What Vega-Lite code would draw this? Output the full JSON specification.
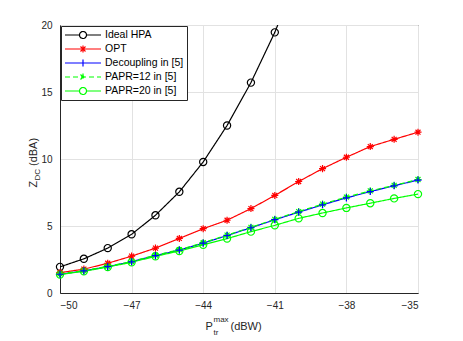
{
  "$schema": "https://vega.github.io/schema/vega-lite/v6.json",
  "width": 358,
  "height": 268,
  "autosize": {"type": "none"},
  "padding": {"left": 60, "top": 25, "right": 45, "bottom": 48},
  "background": "white",
  "config": {
    "font": "Liberation Sans",
    "view": {"stroke": "#262626", "strokeWidth": 1},
    "axis": {
      "domainColor": "#262626",
      "labelColor": "#262626",
      "titleColor": "#262626",
      "gridColor": "#e2e2e2",
      "labelFont": "Liberation Sans",
      "titleFont": "Liberation Sans",
      "labelFontSize": 10,
      "titleFontSize": 11,
      "titleFontWeight": "normal",
      "ticks": false
    },
    "legend": {
      "orient": "top-left",
      "offset": 1,
      "padding": 3,
      "strokeColor": "#262626",
      "fillColor": "white",
      "labelFont": "Liberation Sans",
      "labelFontSize": 10.5,
      "labelColor": "#000000",
      "labelOffset": 29,
      "symbolSize": 100,
      "symbolStrokeWidth": 1.2,
      "symbolOpacity": 1,
      "rowPadding": 2
    }
  },
  "datasets": {
    "d": [
      {"series": "Ideal HPA", "p": -50, "z": 1.95},
      {"series": "Ideal HPA", "p": -49, "z": 2.55},
      {"series": "Ideal HPA", "p": -48, "z": 3.35},
      {"series": "Ideal HPA", "p": -47, "z": 4.38},
      {"series": "Ideal HPA", "p": -46, "z": 5.8},
      {"series": "Ideal HPA", "p": -45, "z": 7.55},
      {"series": "Ideal HPA", "p": -44, "z": 9.78},
      {"series": "Ideal HPA", "p": -43, "z": 12.5},
      {"series": "Ideal HPA", "p": -42, "z": 15.7},
      {"series": "Ideal HPA", "p": -41, "z": 19.45},
      {"series": "Ideal HPA", "p": -40, "z": 23.9},
      {"series": "OPT", "p": -50, "z": 1.52},
      {"series": "OPT", "p": -49, "z": 1.78},
      {"series": "OPT", "p": -48, "z": 2.22},
      {"series": "OPT", "p": -47, "z": 2.75},
      {"series": "OPT", "p": -46, "z": 3.35},
      {"series": "OPT", "p": -45, "z": 4.07},
      {"series": "OPT", "p": -44, "z": 4.8},
      {"series": "OPT", "p": -43, "z": 5.43},
      {"series": "OPT", "p": -42, "z": 6.3},
      {"series": "OPT", "p": -41, "z": 7.28},
      {"series": "OPT", "p": -40, "z": 8.32},
      {"series": "OPT", "p": -39, "z": 9.28},
      {"series": "OPT", "p": -38, "z": 10.13},
      {"series": "OPT", "p": -37, "z": 10.93},
      {"series": "OPT", "p": -36, "z": 11.47},
      {"series": "OPT", "p": -35, "z": 12.0},
      {"series": "Decoupling in [5]", "p": -50, "z": 1.4},
      {"series": "Decoupling in [5]", "p": -49, "z": 1.65},
      {"series": "Decoupling in [5]", "p": -48, "z": 1.97},
      {"series": "Decoupling in [5]", "p": -47, "z": 2.33},
      {"series": "Decoupling in [5]", "p": -46, "z": 2.79},
      {"series": "Decoupling in [5]", "p": -45, "z": 3.2},
      {"series": "Decoupling in [5]", "p": -44, "z": 3.72},
      {"series": "Decoupling in [5]", "p": -43, "z": 4.29},
      {"series": "Decoupling in [5]", "p": -42, "z": 4.87},
      {"series": "Decoupling in [5]", "p": -41, "z": 5.47},
      {"series": "Decoupling in [5]", "p": -40, "z": 6.03},
      {"series": "Decoupling in [5]", "p": -39, "z": 6.58},
      {"series": "Decoupling in [5]", "p": -38, "z": 7.1},
      {"series": "Decoupling in [5]", "p": -37, "z": 7.57},
      {"series": "Decoupling in [5]", "p": -36, "z": 8.0},
      {"series": "Decoupling in [5]", "p": -35, "z": 8.43},
      {"series": "PAPR=12 in [5]", "p": -50, "z": 1.42},
      {"series": "PAPR=12 in [5]", "p": -49, "z": 1.67},
      {"series": "PAPR=12 in [5]", "p": -48, "z": 1.99},
      {"series": "PAPR=12 in [5]", "p": -47, "z": 2.35},
      {"series": "PAPR=12 in [5]", "p": -46, "z": 2.82},
      {"series": "PAPR=12 in [5]", "p": -45, "z": 3.23},
      {"series": "PAPR=12 in [5]", "p": -44, "z": 3.75},
      {"series": "PAPR=12 in [5]", "p": -43, "z": 4.32},
      {"series": "PAPR=12 in [5]", "p": -42, "z": 4.9},
      {"series": "PAPR=12 in [5]", "p": -41, "z": 5.5},
      {"series": "PAPR=12 in [5]", "p": -40, "z": 6.08},
      {"series": "PAPR=12 in [5]", "p": -39, "z": 6.63},
      {"series": "PAPR=12 in [5]", "p": -38, "z": 7.16},
      {"series": "PAPR=12 in [5]", "p": -37, "z": 7.62},
      {"series": "PAPR=12 in [5]", "p": -36, "z": 8.03},
      {"series": "PAPR=12 in [5]", "p": -35, "z": 8.47},
      {"series": "PAPR=20 in [5]", "p": -50, "z": 1.38},
      {"series": "PAPR=20 in [5]", "p": -49, "z": 1.62},
      {"series": "PAPR=20 in [5]", "p": -48, "z": 1.94},
      {"series": "PAPR=20 in [5]", "p": -47, "z": 2.29},
      {"series": "PAPR=20 in [5]", "p": -46, "z": 2.74},
      {"series": "PAPR=20 in [5]", "p": -45, "z": 3.13},
      {"series": "PAPR=20 in [5]", "p": -44, "z": 3.6},
      {"series": "PAPR=20 in [5]", "p": -43, "z": 4.06},
      {"series": "PAPR=20 in [5]", "p": -42, "z": 4.58},
      {"series": "PAPR=20 in [5]", "p": -41, "z": 5.05},
      {"series": "PAPR=20 in [5]", "p": -40, "z": 5.57},
      {"series": "PAPR=20 in [5]", "p": -39, "z": 5.97},
      {"series": "PAPR=20 in [5]", "p": -38, "z": 6.35},
      {"series": "PAPR=20 in [5]", "p": -37, "z": 6.7},
      {"series": "PAPR=20 in [5]", "p": -36, "z": 7.06},
      {"series": "PAPR=20 in [5]", "p": -35, "z": 7.38}
    ]
  },
  "data": {"name": "d"},
  "layer": [
    {
      "mark": {"type": "line", "clip": true, "strokeWidth": 1.2},
      "encoding": {
        "x": {"field": "p", "type": "quantitative", "scale": {"domain": [-50, -35], "nice": false, "zero": false},
          "axis": {"orient": "bottom", "values": [-50, -47, -44, -41, -38, -35], "grid": true, "labelPadding": 7, "title": "(dBW)", "titleX": 170, "titleY": 36.5, "titleAlign": "left", "titleBaseline": "alphabetic"}},
        "y": {"field": "z", "type": "quantitative", "scale": {"domain": [0, 20], "nice": false, "zero": false},
          "axis": {"orient": "left", "values": [0, 5, 10, 15, 20], "grid": true, "labelPadding": 8, "title": "(dBA)", "titleX": -24, "titleY": 140.5, "titleAngle": 270, "titleAlign": "left", "titleBaseline": "alphabetic"}},
        "detail": {"field": "series"},
        "color": {"field": "series", "type": "nominal", "title": null, "legend": null,
          "scale": {"domain": ["Ideal HPA", "OPT", "Decoupling in [5]", "PAPR=12 in [5]", "PAPR=20 in [5]"], "range": ["#000000", "#ff0000", "#0000ff", "#00ff00", "#00ff00"]}},
        "strokeDash": {"field": "series", "type": "nominal", "title": null, "legend": null,
          "scale": {"domain": ["Ideal HPA", "OPT", "Decoupling in [5]", "PAPR=12 in [5]", "PAPR=20 in [5]"], "range": [[1, 0], [1, 0], [1, 0], [5, 3], [1, 0]]}}
      }
    },
    {
      "transform": [{"filter": {"field": "series", "oneOf": ["Ideal HPA", "PAPR=20 in [5]"]}}, {"filter": "datum.z <= 20"}],
      "mark": {"type": "point", "shape": "circle", "filled": false, "size": 52, "strokeWidth": 1.2, "opacity": 1},
      "encoding": {
        "x": {"field": "p", "type": "quantitative", "axis": {"orient": "bottom", "labels": false, "domain": false, "grid": false, "title": "P", "titleX": 145, "titleY": 36.5, "titleAlign": "left", "titleBaseline": "alphabetic"}},
        "y": {"field": "z", "type": "quantitative", "axis": {"orient": "left", "labels": false, "domain": false, "grid": false, "title": "Z", "titleX": -24, "titleY": 162, "titleAngle": 270, "titleAlign": "left", "titleBaseline": "alphabetic"}},
        "color": {"field": "series", "type": "nominal", "title": null, "legend": null,
          "scale": {"domain": ["Ideal HPA", "OPT", "Decoupling in [5]", "PAPR=12 in [5]", "PAPR=20 in [5]"], "range": ["#000000", "#ff0000", "#0000ff", "#00ff00", "#00ff00"]}}
      }
    },
    {
      "transform": [{"filter": {"field": "series", "oneOf": ["OPT", "PAPR=12 in [5]"]}}],
      "mark": {"type": "point", "shape": "M-1,0H1M0,-1V1M-0.7,-0.7L0.7,0.7M-0.7,0.7L0.7,-0.7", "filled": false, "size": 50, "strokeWidth": 1.2, "opacity": 1},
      "encoding": {
        "x": {"field": "p", "type": "quantitative", "axis": {"orient": "bottom", "labels": false, "domain": false, "grid": false, "title": "max", "titleFontSize": 8, "titleX": 153, "titleY": 28, "titleAlign": "left", "titleBaseline": "alphabetic"}},
        "y": {"field": "z", "type": "quantitative", "axis": {"orient": "left", "labels": false, "domain": false, "grid": false, "title": "DC", "titleFontSize": 8, "titleX": -21, "titleY": 155, "titleAngle": 270, "titleAlign": "left", "titleBaseline": "alphabetic"}},
        "color": {"field": "series", "type": "nominal", "title": null, "legend": null,
          "scale": {"domain": ["Ideal HPA", "OPT", "Decoupling in [5]", "PAPR=12 in [5]", "PAPR=20 in [5]"], "range": ["#000000", "#ff0000", "#0000ff", "#00ff00", "#00ff00"]}}
      }
    },
    {
      "transform": [{"filter": {"field": "series", "equal": "Decoupling in [5]"}}],
      "mark": {"type": "point", "shape": "M-1,0H1M0,-1V1", "filled": false, "size": 50, "strokeWidth": 1.2, "opacity": 1},
      "encoding": {
        "x": {"field": "p", "type": "quantitative", "axis": {"orient": "bottom", "labels": false, "domain": false, "grid": false, "title": "tr", "titleFontSize": 8, "titleX": 153, "titleY": 41, "titleAlign": "left", "titleBaseline": "alphabetic"}},
        "y": {"field": "z", "type": "quantitative", "axis": null},
        "color": {"field": "series", "type": "nominal", "title": null, "legend": null,
          "scale": {"domain": ["Ideal HPA", "OPT", "Decoupling in [5]", "PAPR=12 in [5]", "PAPR=20 in [5]"], "range": ["#000000", "#ff0000", "#0000ff", "#00ff00", "#00ff00"]}}
      }
    },
    {
      "mark": {"type": "point", "filled": false, "opacity": 0, "size": 50},
      "encoding": {
        "x": {"field": "p", "type": "quantitative", "axis": null},
        "y": {"field": "z", "type": "quantitative", "axis": null},
        "color": {"field": "series", "type": "nominal", "title": null, "legend": {"symbolOpacity": 1},
          "scale": {"domain": ["Ideal HPA", "OPT", "Decoupling in [5]", "PAPR=12 in [5]", "PAPR=20 in [5]"], "range": ["#000000", "#ff0000", "#0000ff", "#00ff00", "#00ff00"]}},
        "strokeDash": {"field": "series", "type": "nominal", "title": null, "legend": {"symbolOpacity": 1},
          "scale": {"domain": ["Ideal HPA", "OPT", "Decoupling in [5]", "PAPR=12 in [5]", "PAPR=20 in [5]"], "range": [[1, 0], [1, 0], [1, 0], [5, 3], [1, 0]]}},
        "shape": {"field": "series", "type": "nominal", "title": null, "legend": {"symbolOpacity": 1},
          "scale": {"domain": ["Ideal HPA", "OPT", "Decoupling in [5]", "PAPR=12 in [5]", "PAPR=20 in [5]"],
            "range": [
              "M-1,0H1.9M3.3,0H6.2M3.3,0A0.7,0.7 0 1 1 1.9,0A0.7,0.7 0 1 1 3.3,0",
              "M-1,0H6.2M2.6,-0.7V0.7M2.1,-0.5L3.1,0.5M2.1,0.5L3.1,-0.5",
              "M-1,0H6.2M2.6,-0.7V0.7",
              "M-1,0H6.2M2.6,-0.7V0.7M2.1,-0.5L3.1,0.5M2.1,0.5L3.1,-0.5",
              "M-1,0H1.9M3.3,0H6.2M3.3,0A0.7,0.7 0 1 1 1.9,0A0.7,0.7 0 1 1 3.3,0"
            ]}}
      }
    }
  ],
  "resolve": {"axis": {"x": "independent", "y": "independent"}, "scale": {"color": "independent", "strokeDash": "independent", "shape": "independent"}}
}
